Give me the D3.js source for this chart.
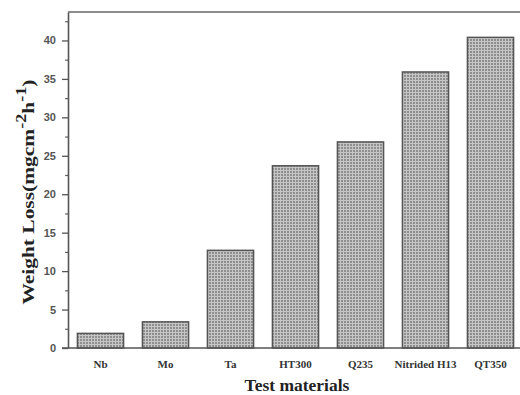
<!DOCTYPE html>
<html lang="en">
  <head>
    <meta charset="UTF-8" />
    <title>Weight Loss by Test Material</title>
    <script src="https://d3js.org/d3.v7.min.js"></script>
    <style>
      body {
        margin: 0;
        background: #fff;
      }
      svg {
        display: block;
      }
      .ytick text {
        font-family: "Liberation Sans", Arial, sans-serif;
        font-weight: bold;
        font-size: 11px;
        fill: #555;
      }
      .xtick text {
        font-family: "Liberation Serif", "Times New Roman", serif;
        font-weight: bold;
        font-size: 11px;
        fill: #333;
      }
      .title {
        font-family: "Liberation Serif", "Times New Roman", serif;
        font-weight: bold;
        fill: #222;
      }
    </style>
  </head>
  <body>
    <script>
      // data
      const materials = ["Nb", "Mo", "Ta", "HT300", "Q235", "Nitrided H13", "QT350"];
      const weightLoss = [1.9, 3.4, 12.7, 23.7, 26.8, 35.9, 40.4];
      const yTicks = [0, 5, 10, 15, 20, 25, 30, 35, 40];

      const width = 520,
        height = 395;
      const margin = { top: 12, right: -3, bottom: 47, left: 68 };
      const plotW = width - margin.left - margin.right;
      const plotH = height - margin.top - margin.bottom;

      const svg = d3.select("body").append("svg").attr("width", width).attr("height", height);

      // dotted fill like the printed hatch
      const pat = svg
        .append("defs")
        .append("pattern")
        .attr("id", "dots")
        .attr("patternUnits", "userSpaceOnUse")
        .attr("width", 3)
        .attr("height", 3);
      pat.append("rect").attr("width", 3).attr("height", 3).attr("fill", "#c6c6c6");
      pat.append("rect").attr("width", 2).attr("height", 2).attr("fill", "#8e8e8e");

      const g = svg.append("g").attr("transform", `translate(${margin.left},${margin.top})`);

      const x = d3.scaleBand().domain(materials).range([0, plotW]).paddingInner(0.29).paddingOuter(0.145);
      const y = d3.scaleLinear().domain([0, 43.7]).range([plotH, 0]);

      // bars
      g.selectAll(".bar")
        .data(materials)
        .enter()
        .append("rect")
        .attr("class", "bar")
        .attr("x", (d) => x(d))
        .attr("y", (d, i) => y(weightLoss[i]))
        .attr("width", x.bandwidth())
        .attr("height", (d, i) => y(0) - y(weightLoss[i]))
        .attr("fill", "url(#dots)")
        .attr("stroke", "#555")
        .attr("stroke-width", 1.5);

      // minor y ticks
      const minor = d3.range(2.5, 43.7, 5);
      g.append("g")
        .call(d3.axisLeft(y).tickValues(minor).tickSize(3).tickFormat(""))
        .call((a) => a.select(".domain").remove())
        .selectAll("line")
        .attr("stroke", "#666")
        .attr("stroke-width", 1.2);

      // major y ticks + axis line
      const yAxis = g
        .append("g")
        .attr("class", "ytick")
        .call(d3.axisLeft(y).tickValues(yTicks).tickSize(6).tickPadding(6).tickSizeOuter(0));
      yAxis.select(".domain").attr("stroke", "#555").attr("stroke-width", 1.6);
      yAxis.selectAll("line").attr("stroke", "#555").attr("stroke-width", 1.3);

      // bottom axis (no ticks)
      const xAxis = g
        .append("g")
        .attr("class", "xtick")
        .attr("transform", `translate(0,${plotH})`)
        .call(d3.axisBottom(x).tickSize(0).tickPadding(12));
      xAxis.select(".domain").attr("stroke", "#555").attr("stroke-width", 1.6).attr("d", `M-6,0H${plotW}`);

      // top frame
      g.append("line")
        .attr("x1", 0)
        .attr("x2", plotW)
        .attr("y1", 0)
        .attr("y2", 0)
        .attr("stroke", "#666")
        .attr("stroke-width", 1.6);

      // axis titles
      svg
        .append("text")
        .attr("class", "title")
        .attr("x", 297)
        .attr("y", 391)
        .attr("text-anchor", "middle")
        .style("font-size", "17.5px")
        .text("Test materials");

      // the scan is stretched along the y title, so widen it along its run
      const yl = svg
        .append("text")
        .attr("class", "title")
        .attr("transform", "translate(34,192) rotate(-90) scale(1.3,1)")
        .attr("text-anchor", "middle")
        .style("font-size", "16.5px");
      yl.append("tspan").text("Weight Loss(mgcm");
      yl.append("tspan").attr("dy", -8).style("font-size", "14px").text("-2");
      yl.append("tspan").attr("dy", 8).text("h");
      yl.append("tspan").attr("dy", -8).style("font-size", "14px").text("-1");
      yl.append("tspan").attr("dy", 8).text(")");
    </script>
  </body>
</html>
